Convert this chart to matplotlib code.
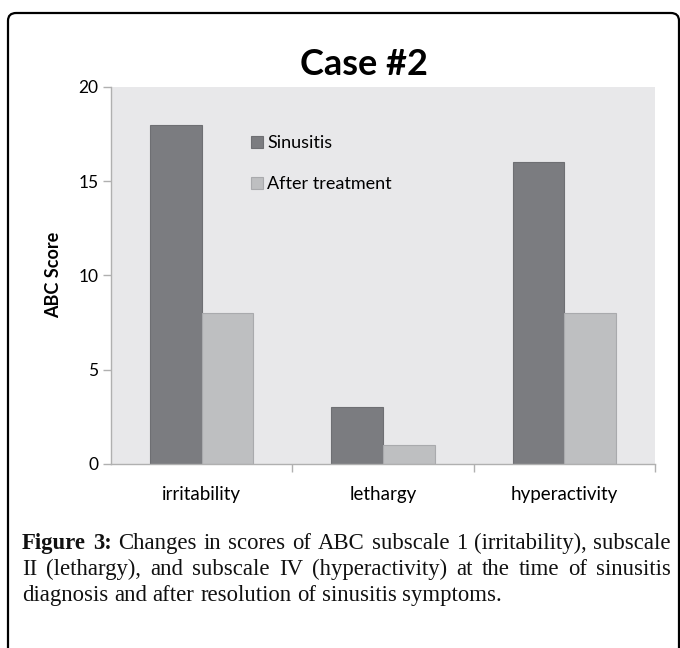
import matplotlib
matplotlib.use("Agg")
import matplotlib.pyplot as plt
import numpy as np
from matplotlib.patches import FancyBboxPatch

categories = ["irritability", "lethargy", "hyperactivity"]
sinusitis = [18, 3, 16]
after_treatment = [8, 1, 8]
series_names = ["Sinusitis", "After treatment"]
yticks = [0, 5, 10, 15, 20]

caption_lines = [
    [("Figure", "bold"), ("3:", "bold"), ("Changes", "normal"), ("in", "normal"), ("scores", "normal"),
     ("of", "normal"), ("ABC", "normal"), ("subscale", "normal"), ("1", "normal"),
     ("(irritability),", "normal"), ("subscale", "normal")],
    [(w, "normal") for w in "II (lethargy), and subscale IV (hyperactivity) at the time of sinusitis".split()],
    [(w, "normal") for w in "diagnosis and after resolution of sinusitis symptoms.".split()],
]

W, H = 680, 648
fig = plt.figure(figsize=(W / 100, H / 100), dpi=100)
SANS = ["Lato", "DejaVu Sans"]
SERIF = ["Liberation Serif", "DejaVu Serif"]

# rounded frame, open at the bottom edge
frame = FancyBboxPatch((8 / W, -0.05), (671 / W), 1 - 13 / H + 0.05,
                       boxstyle="round,pad=0,rounding_size=0.012", transform=fig.transFigure,
                       fill=False, ec="black", lw=1.6, clip_on=False)
fig.patches.append(frame)

ax = fig.add_axes([111 / W, 1 - 463.7 / H, 544 / W, (463.7 - 87) / H])
ax.set_facecolor("#e8e8ea")
x = np.arange(len(categories))
bw = 0.285
ax.bar(x - bw / 2, sinusitis, bw, color="#7b7c80", edgecolor="#6e6f73", lw=0.8, label=series_names[0])
ax.bar(x + bw / 2, after_treatment, bw, color="#bebfc1", edgecolor="#a9aaad", lw=0.8, label=series_names[1])
ax.set_xlim(-0.5, len(categories) - 0.5)
ax.set_ylim(0, 20)
ax.set_yticks(yticks)
ax.set_yticklabels([str(t) for t in yticks], fontsize=12.5, family=SANS)
ax.set_xticks(x)
ax.set_xticklabels(categories, fontsize=13.5, family=SANS)
ax.set_xticks([0.5, 1.5, 2.5], minor=True)
ax.tick_params(axis="x", which="major", length=0, pad=16)
ax.tick_params(axis="x", which="minor", length=6, color="#b0b0b0", width=1)
ax.tick_params(axis="y", length=6, color="#b0b0b0", width=1, pad=3)
for s in ["top", "right"]:
    ax.spines[s].set_visible(False)
for s in ["left", "bottom"]:
    ax.spines[s].set_color("#b0b0b0")
    ax.spines[s].set_linewidth(1)
ax.set_ylabel("ABC Score", fontsize=13, fontweight="bold", family=SANS, labelpad=12)

leg = ax.legend(loc="upper left", bbox_to_anchor=(0.24, 0.896), frameon=False, borderpad=0,
                handlelength=0.67, handleheight=0.67, handletextpad=0.25, labelspacing=1.4,
                prop={"family": SANS, "size": 13})

fig.text(364 / W, 1 - 75 / H, "Case #2", ha="center", va="baseline", fontsize=26,
         fontweight="bold", family=SANS)

# justified caption
fig.canvas.draw()
r = fig.canvas.get_renderer()
left_px, right_px = 22, 671
base_y = [549, 575, 601]
cap_size = 16.4
for li, words in enumerate(caption_lines):
    texts = []
    for w, wt in words:
        t = fig.text(0, 1 - base_y[li] / H, w, fontsize=cap_size, fontweight=wt, family=SERIF,
                     ha="left", va="baseline", color="#111111")
        texts.append(t)
    widths = [t.get_window_extent(r).width for t in texts]
    if li < len(caption_lines) - 1:
        gap = (right_px - left_px - sum(widths)) / (len(texts) - 1)
    else:
        gap = 0.25 * cap_size * 100 / 72
    pos = left_px
    for t, wd in zip(texts, widths):
        t.set_x(pos / W)
        pos += wd + gap

fig.savefig("out.png", dpi=100)
